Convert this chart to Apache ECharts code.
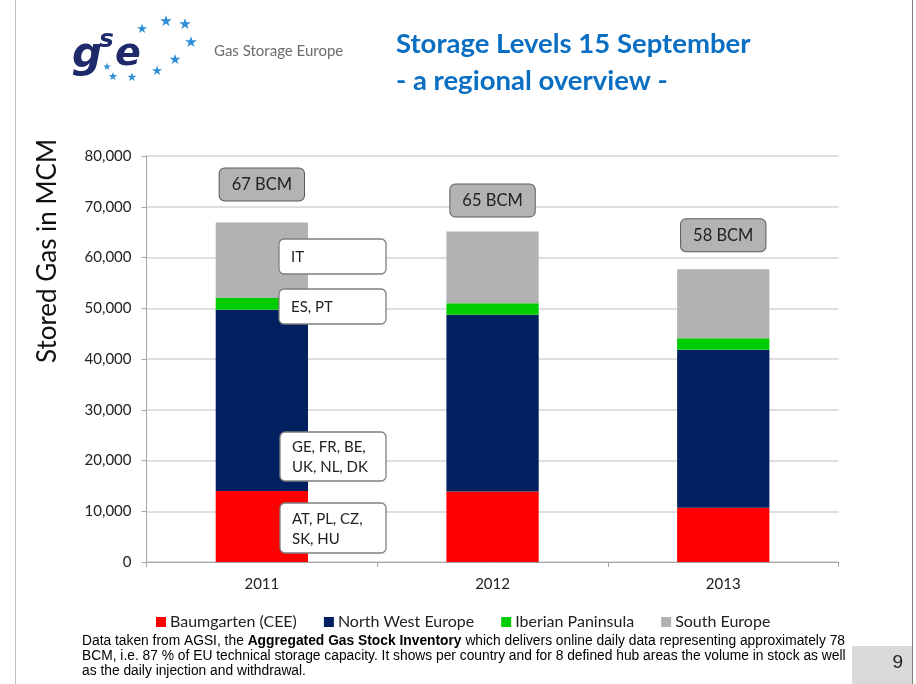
<!DOCTYPE html>
<html>
<head>
<meta charset="utf-8">
<script src="https://cdn.jsdelivr.net/npm/echarts@6/dist/echarts.min.js"></script>
<style>
html,body{margin:0;padding:0;background:#fff;}
#chart{width:916px;height:684px;}
</style>
</head>
<body>
<div id="chart"></div>
<script>
// ---- data ----
const categories = ['2011', '2012', '2013'];
const seriesNames = ['Baumgarten (CEE)', 'North West Europe', 'Iberian Paninsula', 'South Europe'];
const baumgarten = [14000, 13900, 10700];
const northWest = [35700, 34800, 31100];
const iberian = [2300, 2300, 2300];
const southEurope = [14900, 14100, 13600];
const totalLabels = ['67 BCM', '65 BCM', '58 BCM'];
const yTicks = [0, 10000, 20000, 30000, 40000, 50000, 60000, 70000, 80000];
const callouts = [
  {text: 'IT', box: [279, 239, 107, 35]},
  {text: 'ES, PT', box: [279, 289, 107, 35]},
  {text: 'GE, FR, BE,\nUK, NL, DK', box: [280, 432, 106, 49]},
  {text: 'AT, PL, CZ,\nSK, HU', box: [280, 503, 106, 50]}
];
const footnote = [
  [{t: 'Data taken from AGSI, the '}, {t: 'Aggregated Gas Stock Inventory', b: true}, {t: ' which delivers online daily data representing approximately 78'}],
  [{t: 'BCM, i.e. 87 % of EU technical storage capacity. It shows per country and for 8 defined hub areas the volume in stock as well'}],
  [{t: 'as the daily injection and withdrawal.'}]
];

const colors = ['#ff0000', '#002060', '#00cc00', '#b2b2b2'];
const FONT = 'Lato, "Open Sans", sans-serif';
const labelGaps = [22, 15, 18];

const chart = echarts.init(document.getElementById('chart'), null, {renderer: 'canvas'});

const dataSets = [baumgarten, northWest, iberian, southEurope];
const series = dataSets.map((d, i) => {
  const s = {
    name: seriesNames[i],
    type: 'bar',
    stack: 'total',
    data: d,
    barWidth: '40%',
    itemStyle: {color: colors[i]},
    emphasis: {disabled: true}
  };
  if (i === 3) {
    s.data = d.map((v, k) => ({value: v, label: {distance: labelGaps[k]}}));
    s.label = {
      show: true,
      position: 'top',
      formatter: p => totalLabels[p.dataIndex],
      fontFamily: FONT,
      fontSize: 16.5,
      color: '#222',
      backgroundColor: '#b3b3b3',
      borderColor: '#595959',
      borderWidth: 1,
      borderRadius: 5,
      padding: [8, 12, 7, 12]
    };
  }
  return s;
});

// graphics
const graphics = [];
// slide borders
graphics.push({type: 'line', shape: {x1: 15.5, y1: 0, x2: 15.5, y2: 684}, style: {stroke: '#bfbfbf', lineWidth: 1}});
graphics.push({type: 'line', shape: {x1: 912.5, y1: 0, x2: 912.5, y2: 684}, style: {stroke: '#7f7f7f', lineWidth: 1}});
// page number box
graphics.push({type: 'rect', shape: {x: 852, y: 646, width: 60, height: 38}, style: {fill: '#d9d9d9'}});
graphics.push({type: 'text', style: {text: '9', x: 903, y: 663, textAlign: 'right', textVerticalAlign: 'middle', font: '19px "Liberation Sans", Arial, sans-serif', fill: '#222'}});

// logo
graphics.push({type: 'text', style: {text: 'g', x: 72, y: 56, textVerticalAlign: 'middle', font: 'italic bold 42px "DejaVu Sans", sans-serif', fill: '#1f2a6b'}});
graphics.push({type: 'text', style: {text: 's', x: 99, y: 40, textVerticalAlign: 'middle', font: 'italic bold 25px "DejaVu Sans", sans-serif', fill: '#1f2a6b'}});
graphics.push({type: 'text', style: {text: 'e', x: 115, y: 55, textVerticalAlign: 'middle', font: 'italic bold 38px "DejaVu Sans", sans-serif', fill: '#1f2a6b'}});
const stars = [[142, 30, 13], [166, 22, 15], [185, 25, 15], [191, 43, 15], [175, 60, 14], [157, 72, 13], [132, 78, 12], [113, 77, 11], [107, 67, 10]];
stars.forEach(s => graphics.push({type: 'text', style: {text: '\u2605', x: s[0], y: s[1], textAlign: 'center', textVerticalAlign: 'middle', font: s[2] + 'px "DejaVu Sans", sans-serif', fill: '#2e8fd6'}}));
graphics.push({type: 'text', style: {text: 'Gas Storage Europe', x: 214, y: 51, textVerticalAlign: 'middle', font: '15px ' + FONT, fill: '#6d6d6d'}});

// y-axis title
graphics.push({type: 'text', rotation: Math.PI / 2, x: 48, y: 251, style: {text: 'Stored Gas in MCM', x: 0, y: 0, textAlign: 'center', textVerticalAlign: 'middle', font: '26px ' + FONT, fill: '#111'}});

// callouts
callouts.forEach(c => {
  const [x, y, w, h] = c.box;
  graphics.push({type: 'rect', z: 100, shape: {x: x, y: y, width: w, height: h, r: 5}, style: {fill: '#fff', stroke: '#7f7f7f', lineWidth: 1.3}});
  graphics.push({type: 'text', z: 101, style: {text: c.text, x: x + 12, y: y + h / 2 + 1, textVerticalAlign: 'middle', font: '15px ' + FONT, fill: '#222', lineHeight: 20}});
});

// footnote (rich text)
footnote.forEach((line, li) => {
  const rich = {n: {fontFamily: '"Liberation Sans", Arial, sans-serif', fontSize: 13.8, color: '#1a1a1a'}, b: {fontFamily: '"Liberation Sans", Arial, sans-serif', fontSize: 13.8, fontWeight: 'bold', color: '#1a1a1a'}};
  const txt = line.map(seg => '{' + (seg.b ? 'b' : 'n') + '|' + seg.t + '}').join('');
  graphics.push({type: 'text', style: {text: txt, x: 82, y: 641 + li * 15, textVerticalAlign: 'middle', rich: rich}});
});

chart.setOption({
  animation: false,
  color: colors,
  title: {
    text: 'Storage Levels 15 September\n- a regional overview -',
    left: 391,
    top: 21,
    textStyle: {fontFamily: FONT, fontWeight: 'bold', fontSize: 27.5, color: '#0a6fc2', lineHeight: 37}
  },
  legend: {
    left: 151,
    top: 609,
    icon: 'rect',
    itemWidth: 10,
    itemHeight: 10,
    itemGap: 27,
    textStyle: {fontFamily: FONT, fontSize: 16, color: '#222', padding: [0, 0, 0, -1]},
    data: seriesNames
  },
  grid: {left: 146.5, right: 77.4, top: 156, bottom: 122},
  xAxis: {
    type: 'category',
    data: categories,
    axisLine: {lineStyle: {color: '#a6a6a6', width: 1}},
    axisTick: {show: true, length: 5, lineStyle: {color: '#a6a6a6'}},
    axisLabel: {fontFamily: FONT, fontSize: 15, color: '#222', margin: 15}
  },
  yAxis: {
    type: 'value',
    min: yTicks[0],
    max: yTicks[yTicks.length - 1],
    interval: yTicks[1] - yTicks[0],
    axisLine: {show: true, lineStyle: {color: '#a6a6a6', width: 1}},
    axisTick: {show: true, length: 5, lineStyle: {color: '#a6a6a6'}},
    axisLabel: {fontFamily: FONT, fontSize: 15, color: '#222', margin: 15, formatter: v => v.toLocaleString('en-US')},
    splitLine: {lineStyle: {color: '#d4d4d4', width: 1.5}}
  },
  series: series,
  graphic: graphics
});
</script>
</body>
</html>
